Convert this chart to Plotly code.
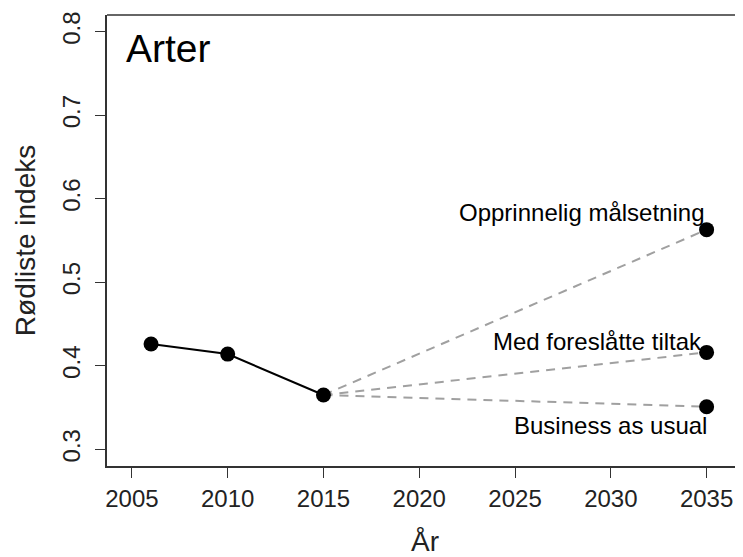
import plotly.graph_objects as go

obs_years = [2006, 2010, 2015]
obs_values = [0.426, 0.414, 0.365]

start_year = 2015
start_value = 0.365
end_year = 2035
scenario_names = ["Opprinnelig målsetning", "Med foreslåtte tiltak", "Business as usual"]
scenario_values = [0.563, 0.416, 0.351]

x_ticks = [2005, 2010, 2015, 2020, 2025, 2030, 2035]
y_ticks = [0.3, 0.4, 0.5, 0.6, 0.7, 0.8]

FONT = "Liberation Sans, Arial, sans-serif"

fig = go.Figure()

for name, v in zip(scenario_names, scenario_values):
    fig.add_trace(go.Scatter(
        x=[start_year, end_year], y=[start_value, v], mode="lines",
        line=dict(color="#a0a0a0", width=2, dash="9px,7px"),
        showlegend=False, hoverinfo="skip"))

fig.add_trace(go.Scatter(
    x=[end_year] * len(scenario_values), y=scenario_values, mode="markers",
    marker=dict(color="black", size=15), showlegend=False))

fig.add_trace(go.Scatter(
    x=obs_years, y=obs_values, mode="lines+markers",
    line=dict(color="black", width=2),
    marker=dict(color="black", size=15), showlegend=False))

label_offsets = [(-1, 17), (-3, 11), (2, -19)]
for name, v, (dx, dy) in zip(scenario_names, scenario_values, label_offsets):
    fig.add_annotation(x=end_year, y=v, text=name, showarrow=False,
                       xanchor="right", yanchor="middle", xshift=dx, yshift=dy,
                       font=dict(family=FONT, size=24, color="black"))

fig.add_annotation(x=0.027, y=0.925, xref="paper", yref="paper", text="Arter",
                   showarrow=False, xanchor="left", yanchor="middle",
                   font=dict(family=FONT, size=39, color="black"))

# top frame line (right side of the box lies outside the picture)
fig.add_shape(type="line", xref="paper", yref="paper", x0=0, x1=1, y0=1, y1=1,
              line=dict(color="#333333", width=1.5))

axis_common = dict(showline=True, linecolor="#333333", linewidth=1.5, mirror=False,
                   showgrid=False, zeroline=False, ticks="outside", ticklen=10,
                   tickwidth=1.2, tickcolor="#333333",
                   tickfont=dict(family=FONT, size=24, color="#222222"))

fig.update_xaxes(range=[2003.7, 2036.9], tickvals=x_ticks,
                 title=dict(text="År", font=dict(family=FONT, size=28, color="#222222"), standoff=22),
                 **axis_common)
fig.update_yaxes(range=[0.28, 0.82], tickvals=y_ticks, ticktext=[f"{t:.1f}" for t in y_ticks],
                 tickangle=-90, ticklabelstandoff=6,
                 title=dict(text="Rødliste indeks", font=dict(family=FONT, size=28, color="#222222"), standoff=14),
                 **axis_common)

fig.update_layout(width=735, height=549, margin=dict(l=99, r=0, t=7, b=91),
                  plot_bgcolor="white", paper_bgcolor="white")

fig.write_html("out.html")
